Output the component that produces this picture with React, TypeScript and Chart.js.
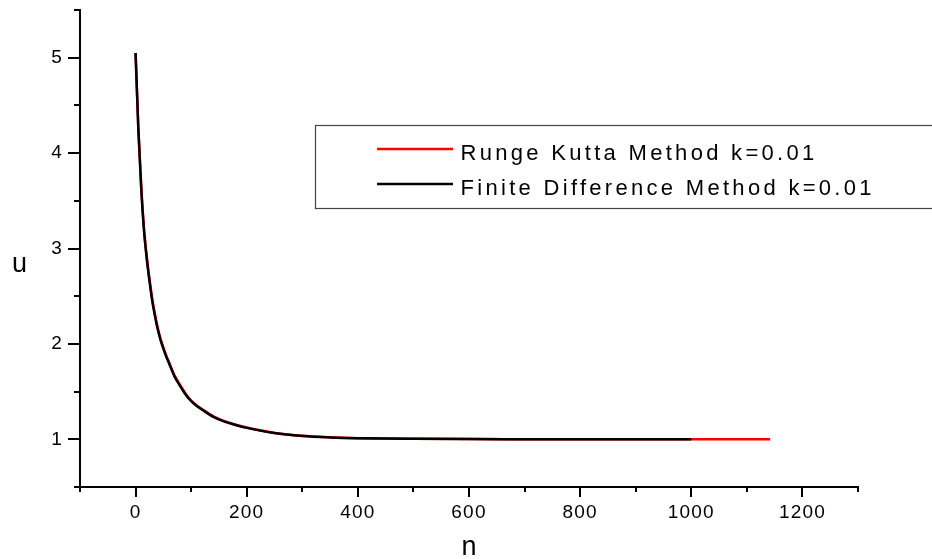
import React, { useEffect, useRef } from "react";
import { Chart, registerables } from "chart.js";

Chart.register(...registerables);

// Time step index n and solution u for both schemes
const fdSteps = [0, 5, 10, 15, 20, 25, 30, 35, 40, 45, 50, 55, 60, 70, 80, 90, 100, 110, 120, 140, 160, 180, 200, 250, 300, 350, 400, 500, 600, 700, 800, 900, 1000];
const fdValues = [5.05, 4.25, 3.65, 3.2, 2.9, 2.66, 2.45, 2.29, 2.15, 2.04, 1.95, 1.87, 1.8, 1.66, 1.56, 1.47, 1.4, 1.35, 1.31, 1.235, 1.185, 1.15, 1.12, 1.065, 1.035, 1.02, 1.012, 1.005, 1.002, 1.001, 1.0, 1.0, 1.0];

const rkSteps = [0, 5, 10, 15, 20, 25, 30, 35, 40, 45, 50, 55, 60, 70, 80, 90, 100, 110, 120, 140, 160, 180, 200, 250, 300, 350, 400, 500, 600, 700, 800, 900, 1000, 1100, 1142];
const rkValues = [5.05, 4.26, 3.67, 3.22, 2.92, 2.68, 2.47, 2.305, 2.165, 2.052, 1.96, 1.88, 1.81, 1.67, 1.57, 1.478, 1.405, 1.355, 1.315, 1.24, 1.19, 1.153, 1.123, 1.067, 1.036, 1.021, 1.012, 1.005, 1.002, 1.001, 1.0, 1.0, 1.0, 1.0, 1.0];

const seriesLabels = ["Runge Kutta Method k=0.01", "Finite Difference Method k=0.01"];
const seriesColors = ["#ff0000", "#000000"];

// Axis ranges and tick labels
const xRange = [-100, 1300];
const xMinorStep = 100;
const xTickLabels = [0, 200, 400, 600, 800, 1000, 1200];
const yRange = [0.5, 5.5];
const yMinorStep = 0.5;
const yTickLabels = [1, 2, 3, 4, 5];

const FONT = "'Liberation Sans', Arial, sans-serif";

const isLabelled = (list: number[], v: number) => list.some((t) => Math.abs(t - v) < 1e-6);

// Tick marks (long for labelled ticks, short otherwise), axis titles and the boxed legend
const decorPlugin = {
  id: "decor",
  beforeDraw(chart: any) {
    chart.ctx.letterSpacing = "1.2px";
  },
  afterDraw(chart: any) {
    const { ctx, chartArea } = chart;
    const xs = chart.scales.x;
    const ys = chart.scales.y;
    ctx.save();
    ctx.letterSpacing = "0px";
    ctx.strokeStyle = "#000";
    ctx.lineWidth = 2;

    for (let v = xRange[0]; v <= xRange[1] + 1e-9; v += xMinorStep) {
      const px = Math.round(xs.getPixelForValue(v));
      const len = isLabelled(xTickLabels, v) ? 10 : 5;
      ctx.beginPath();
      ctx.moveTo(px, chartArea.bottom);
      ctx.lineTo(px, chartArea.bottom + len);
      ctx.stroke();
    }
    for (let v = yRange[0]; v <= yRange[1] + 1e-9; v += yMinorStep) {
      const py = Math.round(ys.getPixelForValue(v));
      const len = isLabelled(yTickLabels, v) ? 12 : 6;
      ctx.beginPath();
      ctx.moveTo(chartArea.left, py);
      ctx.lineTo(chartArea.left - len, py);
      ctx.stroke();
    }

    // axis titles
    ctx.fillStyle = "#000";
    ctx.font = `27px ${FONT}`;
    ctx.textAlign = "center";
    ctx.textBaseline = "alphabetic";
    ctx.fillText("u", 19.5, 271.5);
    ctx.fillText("n", (chartArea.left + chartArea.right) / 2, 555);

    // legend
    const bx = 315.5;
    const by = 125.5;
    ctx.fillStyle = "#fff";
    ctx.fillRect(bx, by, 700, 83);
    ctx.strokeStyle = "#444";
    ctx.lineWidth = 1.2;
    ctx.strokeRect(bx, by, 700, 83);

    const rows = [149, 184];
    chart.data.datasets.forEach((ds: any, i: number) => {
      const ly = rows[i];
      ctx.strokeStyle = ds.borderColor;
      ctx.lineWidth = 2.5;
      ctx.beginPath();
      ctx.moveTo(377, ly);
      ctx.lineTo(453, ly);
      ctx.stroke();
      ctx.fillStyle = "#000";
      ctx.font = `22px ${FONT}`;
      ctx.letterSpacing = "3.3px";
      ctx.textAlign = "left";
      ctx.textBaseline = "alphabetic";
      ctx.fillText(ds.label, 460.5, ly + 11);
    });
    ctx.restore();
  },
};

export default function App() {
  const canvasRef = useRef<HTMLCanvasElement | null>(null);

  useEffect(() => {
    const canvas = canvasRef.current;
    if (!canvas) return;

    const chart = new Chart(canvas, {
      type: "line",
      data: {
        datasets: [
          {
            label: seriesLabels[0],
            data: rkSteps.map((n, i) => ({ x: n, y: rkValues[i] })),
            borderColor: seriesColors[0],
            borderWidth: 2.5,
            pointRadius: 0,
            cubicInterpolationMode: "monotone",
            fill: false,
            order: 2,
          },
          {
            label: seriesLabels[1],
            data: fdSteps.map((n, i) => ({ x: n, y: fdValues[i] })),
            borderColor: seriesColors[1],
            borderWidth: 2.5,
            pointRadius: 0,
            cubicInterpolationMode: "monotone",
            fill: false,
            order: 1,
          },
        ],
      },
      options: {
        responsive: false,
        animation: false,
        devicePixelRatio: 1,
        layout: { padding: { left: 0, right: 74, top: 10, bottom: 0 } },
        plugins: {
          legend: { display: false },
          tooltip: { enabled: false },
          title: { display: false },
        },
        scales: {
          x: {
            type: "linear",
            min: xRange[0],
            max: xRange[1],
            grid: { display: false, drawTicks: false },
            border: { display: true, color: "#000", width: 2 },
            ticks: {
              stepSize: xMinorStep,
              autoSkip: false,
              maxRotation: 0,
              padding: 14,
              color: "#000",
              font: { family: FONT, size: 19 },
              callback: (v: any) => (isLabelled(xTickLabels, Number(v)) ? String(Math.round(Number(v))) : null),
            },
            afterFit: (s: any) => {
              s.height = 72;
              s.paddingLeft = 0;
              s.paddingRight = 0;
            },
          },
          y: {
            type: "linear",
            min: yRange[0],
            max: yRange[1],
            grid: { display: false, drawTicks: false },
            border: { display: true, color: "#000", width: 2 },
            ticks: {
              stepSize: yMinorStep,
              autoSkip: false,
              padding: 17,
              color: "#000",
              font: { family: FONT, size: 19 },
              callback: (v: any) => (isLabelled(yTickLabels, Number(v)) ? String(Math.round(Number(v))) : null),
            },
            afterFit: (s: any) => {
              s.width = 80;
              s.paddingTop = 0;
              s.paddingBottom = 0;
            },
          },
        },
      },
      plugins: [decorPlugin],
    } as any);

    return () => chart.destroy();
  }, []);

  return (
    <div style={{ position: "fixed", left: 0, top: 0, width: 932, height: 559, background: "#fff" }}>
      <canvas ref={canvasRef} width={932} height={559} style={{ display: "block" }} />
    </div>
  );
}
